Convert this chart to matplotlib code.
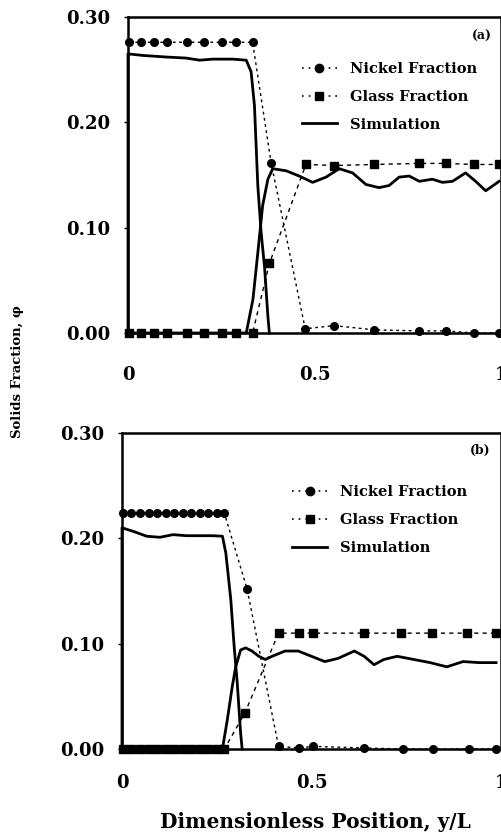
import matplotlib.pyplot as plt
from matplotlib.lines import Line2D

# panel (a) measured data
a_ni_x = [0.003, 0.036, 0.071, 0.104, 0.158, 0.205, 0.252, 0.290, 0.334, 0.384, 0.475, 0.553, 0.660, 0.779, 0.852, 0.928, 0.995]
a_ni_y = [0.276, 0.276, 0.276, 0.276, 0.276, 0.276, 0.276, 0.276, 0.276, 0.161, 0.004, 0.007, 0.003, 0.002, 0.002, 0.000, 0.000]
a_gl_x = [0.003, 0.036, 0.071, 0.104, 0.158, 0.205, 0.252, 0.290, 0.334, 0.379, 0.477, 0.553, 0.660, 0.779, 0.852, 0.928, 0.995]
a_gl_y = [0.000, 0.000, 0.000, 0.000, 0.000, 0.000, 0.000, 0.000, 0.000, 0.066, 0.160, 0.159, 0.160, 0.161, 0.161, 0.160, 0.160]

# panel (a) simulation
a_sn_x = [0.0, 0.0, 0.040, 0.103, 0.156, 0.192, 0.227, 0.281, 0.317, 0.330, 0.339, 0.348, 0.357, 0.366, 0.375, 0.379]
a_sn_y = [0.0, 0.265, 0.2635, 0.262, 0.261, 0.259, 0.260, 0.260, 0.259, 0.248, 0.216, 0.140, 0.095, 0.063, 0.016, 0.0]
a_sg_x = [0.0, 0.317, 0.335, 0.348, 0.361, 0.375, 0.388, 0.424, 0.459, 0.495, 0.531, 0.566, 0.602, 0.638, 0.673, 0.700,
          0.727, 0.754, 0.781, 0.816, 0.843, 0.870, 0.905, 0.932, 0.959, 0.995]
a_sg_y = [0.0, 0.0, 0.032, 0.076, 0.121, 0.146, 0.156, 0.154, 0.149, 0.143, 0.148, 0.156, 0.152, 0.141, 0.138, 0.140,
          0.148, 0.149, 0.144, 0.146, 0.143, 0.144, 0.152, 0.144, 0.135, 0.144]

# panel (b) measured data
b_ni_x = [0.003, 0.025, 0.048, 0.070, 0.093, 0.115, 0.138, 0.160, 0.183, 0.205, 0.228, 0.250, 0.270, 0.330, 0.413, 0.468, 0.504, 0.639, 0.742, 0.820, 0.916, 0.987]
b_ni_y = [0.224] * 13 + [0.152, 0.0025, 0.001, 0.0025, 0.001, 0.0, 0.0, 0.0, 0.0]
b_gl_x = [0.003, 0.025, 0.048, 0.070, 0.093, 0.115, 0.138, 0.160, 0.183, 0.205, 0.228, 0.250, 0.270, 0.324, 0.413, 0.468, 0.504, 0.639, 0.737, 0.817, 0.910, 0.987]
b_gl_y = [0.0] * 13 + [0.034, 0.110, 0.110, 0.110, 0.110, 0.110, 0.110, 0.110, 0.110]

# panel (b) simulation
b_sn_x = [0.0, 0.0, 0.030, 0.065, 0.100, 0.135, 0.170, 0.204, 0.239, 0.265, 0.274, 0.287, 0.296, 0.304, 0.313, 0.317]
b_sn_y = [0.0, 0.210, 0.2066, 0.202, 0.201, 0.2035, 0.2025, 0.2025, 0.2025, 0.202, 0.186, 0.142, 0.097, 0.063, 0.015, 0.0]
b_sg_x = [0.0, 0.265, 0.278, 0.291, 0.300, 0.313, 0.326, 0.343, 0.361, 0.378, 0.396, 0.430, 0.465, 0.500, 0.535, 0.570,
          0.613, 0.639, 0.665, 0.691, 0.726, 0.770, 0.813, 0.857, 0.900, 0.943, 0.987]
b_sg_y = [0.0, 0.0, 0.028, 0.0595, 0.078, 0.094, 0.096, 0.093, 0.088, 0.085, 0.088, 0.093, 0.093, 0.088, 0.083, 0.086,
          0.093, 0.088, 0.080, 0.085, 0.088, 0.085, 0.082, 0.078, 0.083, 0.082, 0.082]

yticks = [0.0, 0.1, 0.2, 0.3]
ytick_labels = ['0.00', '0.10', '0.20', '0.30']
xticks = [0, 0.5, 1]
xtick_labels = ['0', '0.5', '1']
legend_labels = ['Nickel Fraction', 'Glass Fraction', 'Simulation']

plt.rcParams['font.family'] = ['DejaVu Serif']
plt.rcParams['font.weight'] = 'bold'

W, H = 502, 833
fig = plt.figure(figsize=(W / 100, H / 100), dpi=100)


def px_axes(left, right, top, bottom):
    return fig.add_axes([left / W, 1 - bottom / H, (right - left) / W, (bottom - top) / H])


def draw_panel(ax, ni, gl, sn, sg, tag, tag_pos, leg_anchor, xpad):
    ax.plot(ni[0], ni[1], linestyle=(0, (2, 2.5)), color='black', lw=1.0,
            marker='o', markersize=5.5, clip_on=False, zorder=3)
    ax.plot(gl[0], gl[1], linestyle=(0, (3, 3)), color='black', lw=1.0,
            marker='s', markersize=5.5, clip_on=False, zorder=3)
    ax.plot(sn[0], sn[1], color='black', lw=2.0, clip_on=False, zorder=4)
    ax.plot(sg[0], sg[1], color='black', lw=2.0, clip_on=False, zorder=4)
    ax.set_xlim(0, 1)
    ax.set_ylim(0, 0.3)
    ax.set_yticks(yticks)
    ax.set_yticklabels(ytick_labels)
    ax.set_xticks(xticks)
    ax.set_xticklabels(xtick_labels)
    ax.tick_params(axis='both', labelsize=13, direction='out', length=3, width=1)
    ax.tick_params(axis='x', length=0, pad=xpad)
    ax.tick_params(axis='y', pad=10)
    for s in ax.spines.values():
        s.set_linewidth(1.8)
    ax.text(tag_pos[0], tag_pos[1], tag, transform=ax.transAxes, ha='right', va='center',
            fontsize=9, fontweight='bold')
    handles = [
        Line2D([], [], linestyle=(0, (1, 3)), color='black', lw=1.2, marker='o', markersize=6),
        Line2D([], [], linestyle=(0, (1, 3)), color='black', lw=1.2, marker='s', markersize=6),
        Line2D([], [], color='black', lw=2.0),
    ]
    ax.legend(handles, legend_labels, loc='upper left', bbox_to_anchor=leg_anchor,
              frameon=False, fontsize=10.5, handlelength=2.4, handletextpad=0.9,
              labelspacing=0.95, borderaxespad=0, borderpad=0)


ax1 = px_axes(128, 501, 17, 333)
draw_panel(ax1, (a_ni_x, a_ni_y), (a_gl_x, a_gl_y), (a_sn_x, a_sn_y), (a_sg_x, a_sg_y),
           '(a)', (0.975, 0.937), (0.466, 0.858), 24)

ax2 = px_axes(122, 501, 433, 749)
draw_panel(ax2, (b_ni_x, b_ni_y), (b_gl_x, b_gl_y), (b_sn_x, b_sn_y), (b_sg_x, b_sg_y),
           '(b)', (0.972, 0.946), (0.449, 0.835), 18)

fig.text(18 / W, 1 - 372 / H, 'Solids Fraction, \u03c6', rotation=90, ha='center', va='center',
         fontsize=9.5, fontweight='bold')
fig.text(315 / W, 1 - 822 / H, 'Dimensionless Position, y/L', ha='center', va='center',
         fontsize=14.5, fontweight='bold')

fig.savefig('out.png', dpi=100)
